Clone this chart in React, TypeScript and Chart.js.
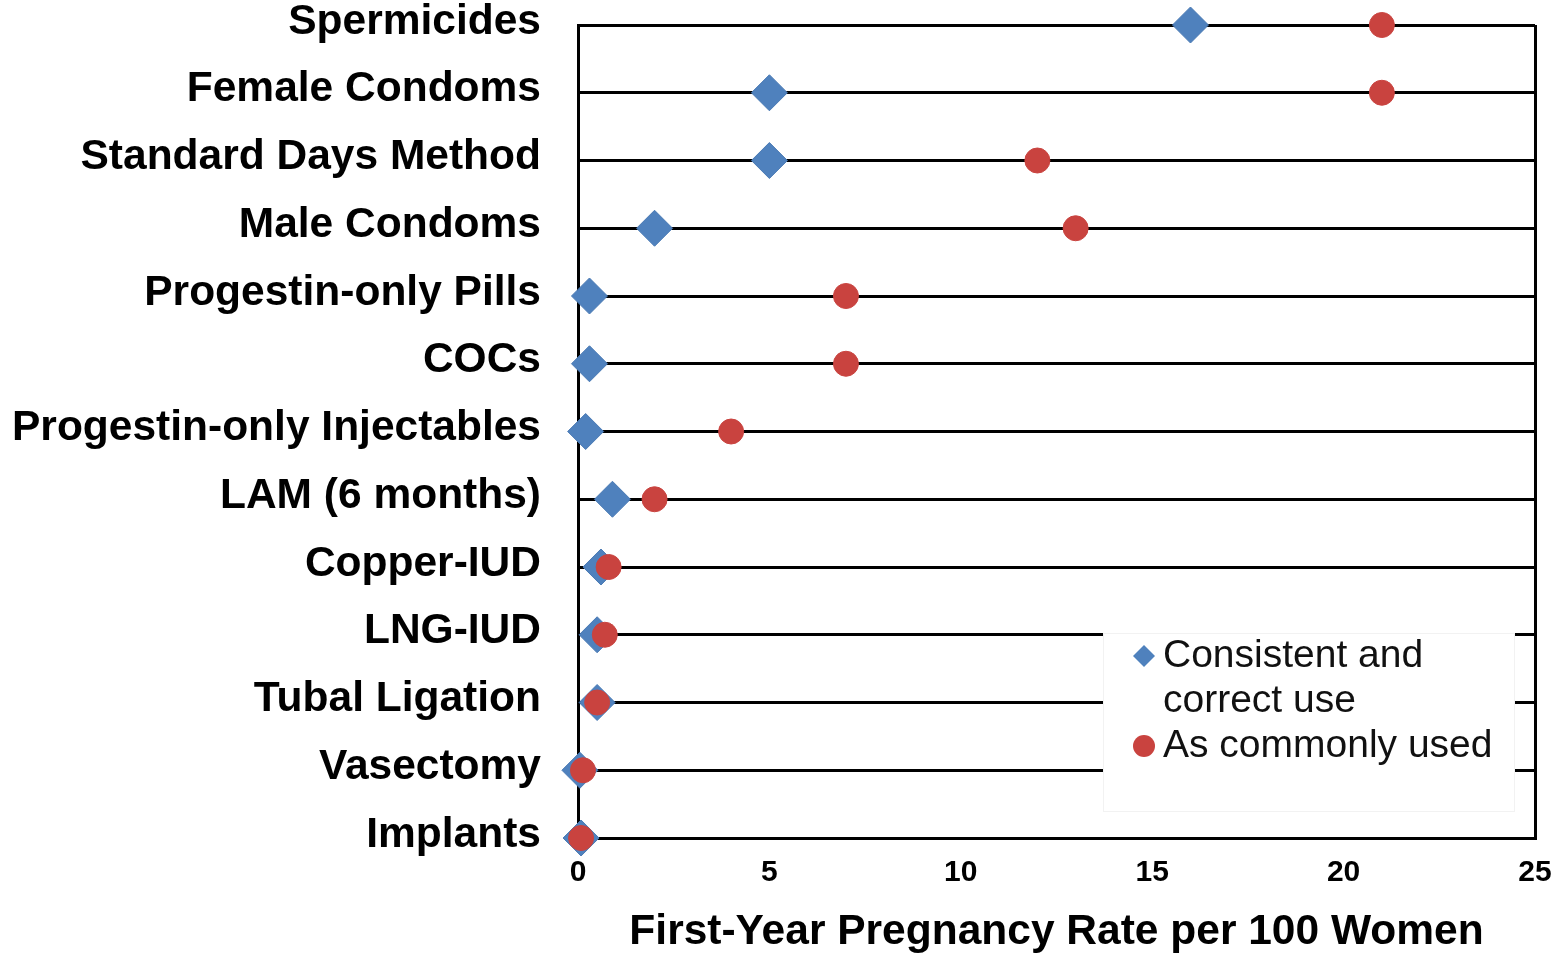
import React, { useEffect, useRef } from "react";
import { Chart, registerables } from "chart.js";

Chart.register(...registerables);

const methods = [
  "Spermicides",
  "Female Condoms",
  "Standard Days Method",
  "Male Condoms",
  "Progestin-only Pills",
  "COCs",
  "Progestin-only Injectables",
  "LAM (6 months)",
  "Copper-IUD",
  "LNG-IUD",
  "Tubal Ligation",
  "Vasectomy",
  "Implants",
];

const consistentUse = [16, 5, 5, 2, 0.3, 0.3, 0.2, 0.9, 0.6, 0.5, 0.5, 0.05, 0.08];
const commonUse = [21, 21, 12, 13, 7, 7, 4, 2, 0.8, 0.7, 0.5, 0.13, 0.08];

const xTicks = [0, 5, 10, 15, 20, 25];
const legendLabels = [["Consistent and", "correct use"], ["As commonly used"]];
const xTitle = "First-Year Pregnancy Rate per 100 Women";

const BLUE = "#4F81BD";
const RED = "#C9433F";
const FONT = "'Liberation Sans', Arial, sans-serif";

const legendPlugin = {
  id: "customLegend",
  afterDraw(chart: any) {
    const { ctx, chartArea } = chart;
    const w = 412;
    const h = 179;
    const x0 = chartArea.right - 20 - w;
    const y0 = chartArea.bottom - 26 - h;
    ctx.save();
    ctx.fillStyle = "#ffffff";
    ctx.fillRect(x0, y0, w, h);
    ctx.strokeStyle = "#f2f2f2";
    ctx.lineWidth = 1;
    ctx.strokeRect(x0 + 0.5, y0 + 0.5, w - 1, h - 1);
    ctx.font = `39px ${FONT}`;
    ctx.textBaseline = "middle";
    ctx.textAlign = "left";
    const mx = x0 + 41;
    const tx = x0 + 60;
    const lh = 45;
    let y = y0 + 23;
    ctx.fillStyle = BLUE;
    ctx.beginPath();
    ctx.moveTo(mx - 11, y);
    ctx.lineTo(mx, y - 11);
    ctx.lineTo(mx + 11, y);
    ctx.lineTo(mx, y + 11);
    ctx.closePath();
    ctx.fill();
    ctx.fillStyle = "#111";
    legendLabels[0].forEach((t, i) => ctx.fillText(t, tx, y + i * lh));
    y += lh * legendLabels[0].length;
    ctx.fillStyle = RED;
    ctx.beginPath();
    ctx.arc(mx, y, 11, 0, Math.PI * 2);
    ctx.fill();
    ctx.fillStyle = "#111";
    legendLabels[1].forEach((t, i) => ctx.fillText(t, tx, y + i * lh));
    ctx.restore();
  },
};

export default function App() {
  const ref = useRef<HTMLCanvasElement | null>(null);
  useEffect(() => {
    if (!ref.current) return;
    const chart = new Chart(ref.current, {
      type: "line",
      data: {
        labels: methods,
        datasets: [
          {
            label: "As commonly used",
            data: commonUse,
            showLine: false,
            clip: false,
            pointStyle: "circle",
            pointRadius: 12.5,
            pointBackgroundColor: RED,
            pointBorderColor: RED,
            pointBorderWidth: 1,
            order: 0,
          },
          {
            label: "Consistent and correct use",
            data: consistentUse,
            showLine: false,
            clip: false,
            pointStyle: "rectRot",
            pointRadius: 18,
            pointBackgroundColor: BLUE,
            pointBorderColor: "#4A7AB4",
            pointBorderWidth: 1,
            order: 1,
          },
        ],
      },
      options: {
        indexAxis: "y",
        animation: false,
        responsive: true,
        maintainAspectRatio: false,
        layout: { padding: { left: 0, right: 25, top: 25, bottom: 0 } },
        plugins: {
          legend: { display: false },
          tooltip: { enabled: false },
        },
        scales: {
          y: {
            type: "category",
            offset: false,
            afterFit: (s: any) => {
              s.width = 578;
              s.paddingTop = 0;
              s.paddingBottom = 0;
            },
            grid: {
              color: "#000",
              lineWidth: 3,
              drawTicks: false,
            },
            border: { display: true, color: "#000", width: 3 },
            ticks: {
              color: "#000",
              padding: 37,
              labelOffset: -3,
              font: { family: FONT, size: 42.5, weight: "bold" },
            },
          },
          x: {
            type: "linear",
            min: 0,
            max: 25,
            afterBuildTicks: (axis: any) => {
              axis.ticks = xTicks.map((v) => ({ value: v }));
            },
            afterFit: (s: any) => {
              s.height = 118;
              s.paddingLeft = 0;
              s.paddingRight = 0;
            },
            grid: {
              color: (c: any) => (c.tick && c.tick.value === 25 ? "#000" : "rgba(0,0,0,0)"),
              lineWidth: 3,
              drawTicks: false,
            },
            border: { display: true, color: "#000", width: 3 },
            ticks: {
              color: "#000",
              padding: 17,
              font: { family: FONT, size: 30, weight: "bold" },
            },
            title: {
              display: true,
              text: xTitle,
              color: "#000",
              padding: { top: 19, bottom: 0 },
              font: { family: FONT, size: 42.5, weight: "bold", lineHeight: 1.1 },
            },
          },
        },
      },
      plugins: [legendPlugin],
    } as any);
    return () => chart.destroy();
  }, []);
  return (
    <div style={{ position: "absolute", left: 0, top: 0, width: 1560, height: 956, background: "#fff" }}>
      <canvas ref={ref} />
    </div>
  );
}
